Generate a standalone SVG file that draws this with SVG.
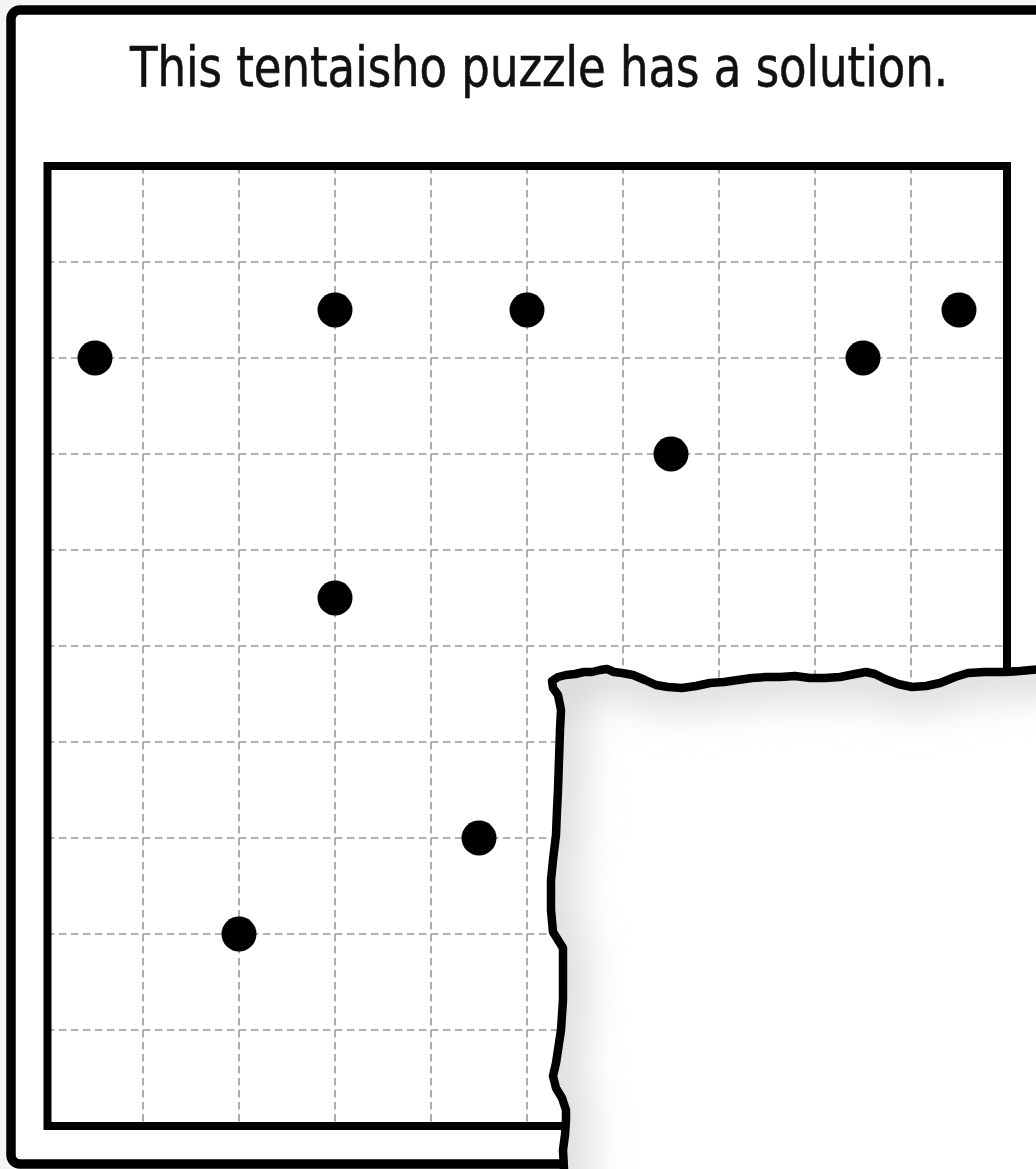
<svg xmlns="http://www.w3.org/2000/svg" width="1036" height="1169" viewBox="0 0 1036 1169">
  <style>
    .grid line { stroke: #9a9a9a; stroke-width: 1.6; stroke-dasharray: 7.5 4.5; }
    .dot { fill: #000; }
    .title { font-family: "DejaVu Sans Condensed", "DejaVu Sans", sans-serif; font-size: 55px; fill: #111; }
  </style>
  <defs>
    <path id="tear" d="M552,681 L558,677 L566,675 L575,674 L584,672 L592,672 L600,670 L607,669 L614,672 L622,673 L633,675 L645,680 L656,685 L668,687 L682,688 L696,686 L710,683 L724,682 L738,680 L752,678 L766,677 L780,677 L795,676 L810,678 L825,678 L840,677 L855,674 L866,672 L875,674 L885,679 L898,684 L912,687 L926,686 L940,683 L955,677 L968,673 L985,672 L1005,672 L1020,671 L1040,669 L1200,669 L1200,1300 L564,1300 L564,1169 L563,1150 L565,1135 L566,1120 L566,1110 L562,1098 L556,1088 L553,1076 L556,1063 L558,1050 L561,1030 L563,1000 L563,970 L563,948 L558,940 L553,932 L551,910 L551,880 L553,860 L556,835 L557,810 L558,790 L559,760 L560,730 L561,710 L558,695 L553,688 Z"/>
    <clipPath id="tearClip"><use href="#tear"/></clipPath>
    <filter id="blur" filterUnits="userSpaceOnUse" x="300" y="400" width="1200" height="1200">
      <feGaussianBlur stdDeviation="24"/>
    </filter>
  </defs>
  <rect x="0" y="0" width="1036" height="1169" fill="#f4f4f4"/>
  <g id="frame">
    <rect x="11" y="10" width="1100" height="1154" rx="9" fill="#fff" stroke="#000" stroke-width="9.5"/>
  </g>
  <text class="title" x="539" y="86" text-anchor="middle" textLength="818" lengthAdjust="spacingAndGlyphs" stroke="#111" stroke-width="0.6">This tentaisho puzzle has a solution.</text>
  <g id="board">
    <rect x="47.5" y="166" width="959.5" height="960" fill="#fff"/>
    <g class="grid">
      <line x1="143" y1="166" x2="143" y2="1126"/>
      <line x1="239" y1="166" x2="239" y2="1126"/>
      <line x1="335" y1="166" x2="335" y2="1126"/>
      <line x1="431" y1="166" x2="431" y2="1126"/>
      <line x1="527" y1="166" x2="527" y2="1126"/>
      <line x1="623" y1="166" x2="623" y2="1126"/>
      <line x1="719" y1="166" x2="719" y2="1126"/>
      <line x1="815" y1="166" x2="815" y2="1126"/>
      <line x1="911" y1="166" x2="911" y2="1126"/>
      <line x1="47" y1="262" x2="1007" y2="262"/>
      <line x1="47" y1="358" x2="1007" y2="358"/>
      <line x1="47" y1="454" x2="1007" y2="454"/>
      <line x1="47" y1="550" x2="1007" y2="550"/>
      <line x1="47" y1="646" x2="1007" y2="646"/>
      <line x1="47" y1="742" x2="1007" y2="742"/>
      <line x1="47" y1="838" x2="1007" y2="838"/>
      <line x1="47" y1="934" x2="1007" y2="934"/>
      <line x1="47" y1="1030" x2="1007" y2="1030"/>
    </g>
    <rect x="47.5" y="166" width="959.5" height="960" fill="none" stroke="#000" stroke-width="8"/>
  </g>
  <g id="dots">
    <circle class="dot" cx="95" cy="358" r="17.5"/>
    <circle class="dot" cx="335" cy="310" r="17.5"/>
    <circle class="dot" cx="527" cy="310" r="17.5"/>
    <circle class="dot" cx="959" cy="310" r="17.5"/>
    <circle class="dot" cx="863" cy="358" r="17.5"/>
    <circle class="dot" cx="671" cy="454" r="17.5"/>
    <circle class="dot" cx="335" cy="598" r="17.5"/>
    <circle class="dot" cx="479" cy="838" r="17.5"/>
    <circle class="dot" cx="239" cy="934" r="17.5"/>
  </g>
  <g id="torn-paper">
    <use href="#tear" fill="#fff"/>
    <g clip-path="url(#tearClip)">
      <use href="#tear" fill="none" stroke="#bcbcbc" stroke-width="26" filter="url(#blur)"/>
    </g>
    <use href="#tear" fill="none" stroke="#000" stroke-width="8.5" stroke-linejoin="round"/>
  </g>
</svg>
